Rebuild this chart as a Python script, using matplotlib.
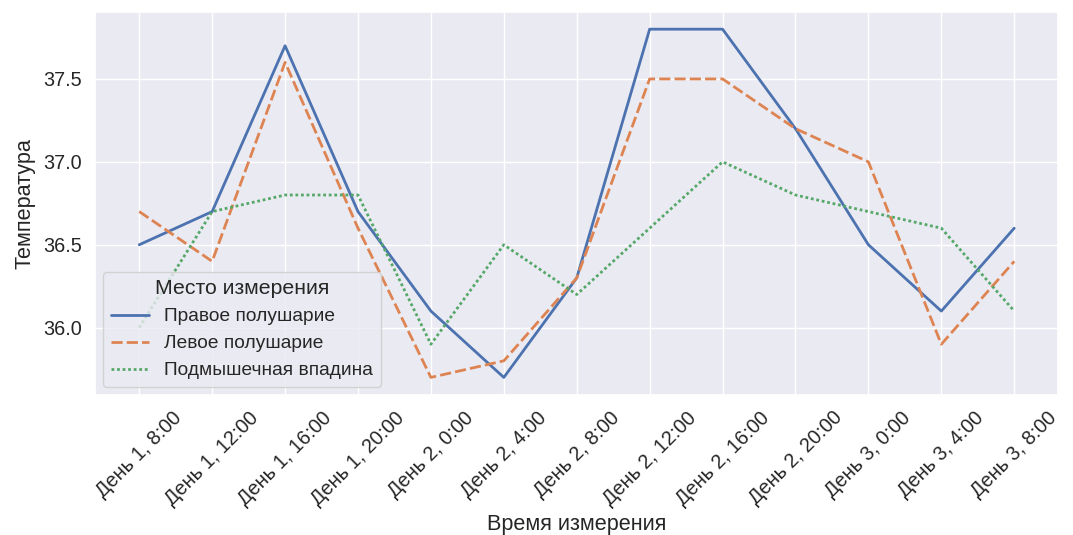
import numpy as np
import pandas as pd
import matplotlib
matplotlib.use('Agg')
import matplotlib.pyplot as plt
import seaborn as sns

times = ['День 1, 8:00', 'День 1, 12:00', 'День 1, 16:00', 'День 1, 20:00',
         'День 2, 0:00', 'День 2, 4:00', 'День 2, 8:00', 'День 2, 12:00',
         'День 2, 16:00', 'День 2, 20:00', 'День 3, 0:00', 'День 3, 4:00',
         'День 3, 8:00']
right = [36.5, 36.7, 37.7, 36.7, 36.1, 35.7, 36.3, 37.8, 37.8, 37.2, 36.5, 36.1, 36.6]
left = [36.7, 36.4, 37.6, 36.6, 35.7, 35.8, 36.3, 37.5, 37.5, 37.2, 37.0, 35.9, 36.4]
armpit = [36.0, 36.7, 36.8, 36.8, 35.9, 36.5, 36.2, 36.6, 37.0, 36.8, 36.7, 36.6, 36.1]
places = ['Правое полушарие', 'Левое полушарие', 'Подмышечная впадина']

rows = []
for place, vals in zip(places, [right, left, armpit]):
    for t, v in zip(times, vals):
        rows.append({'Время измерения': t, 'Температура': v, 'Место измерения': place})
df = pd.DataFrame(rows)

sns.set_theme(style='darkgrid', font_scale=1.3)
plt.rcParams['font.family'] = ['Liberation Sans', 'DejaVu Sans']

fig, ax = plt.subplots(figsize=(10.73, 5.35), dpi=100)
sns.lineplot(data=df, x='Время измерения', y='Температура',
             hue='Место измерения', style='Место измерения', sort=False,
             linewidth=2, ax=ax)

plt.xticks(rotation=45)
ax.legend(title='Место измерения', loc='lower left', fontsize=13.8,
          title_fontsize=15.3, borderaxespad=0.4)
ax.yaxis.labelpad = 6
plt.subplots_adjust(left=0.089, right=0.986, top=0.978, bottom=0.262)
plt.savefig('out.png', dpi=100)
